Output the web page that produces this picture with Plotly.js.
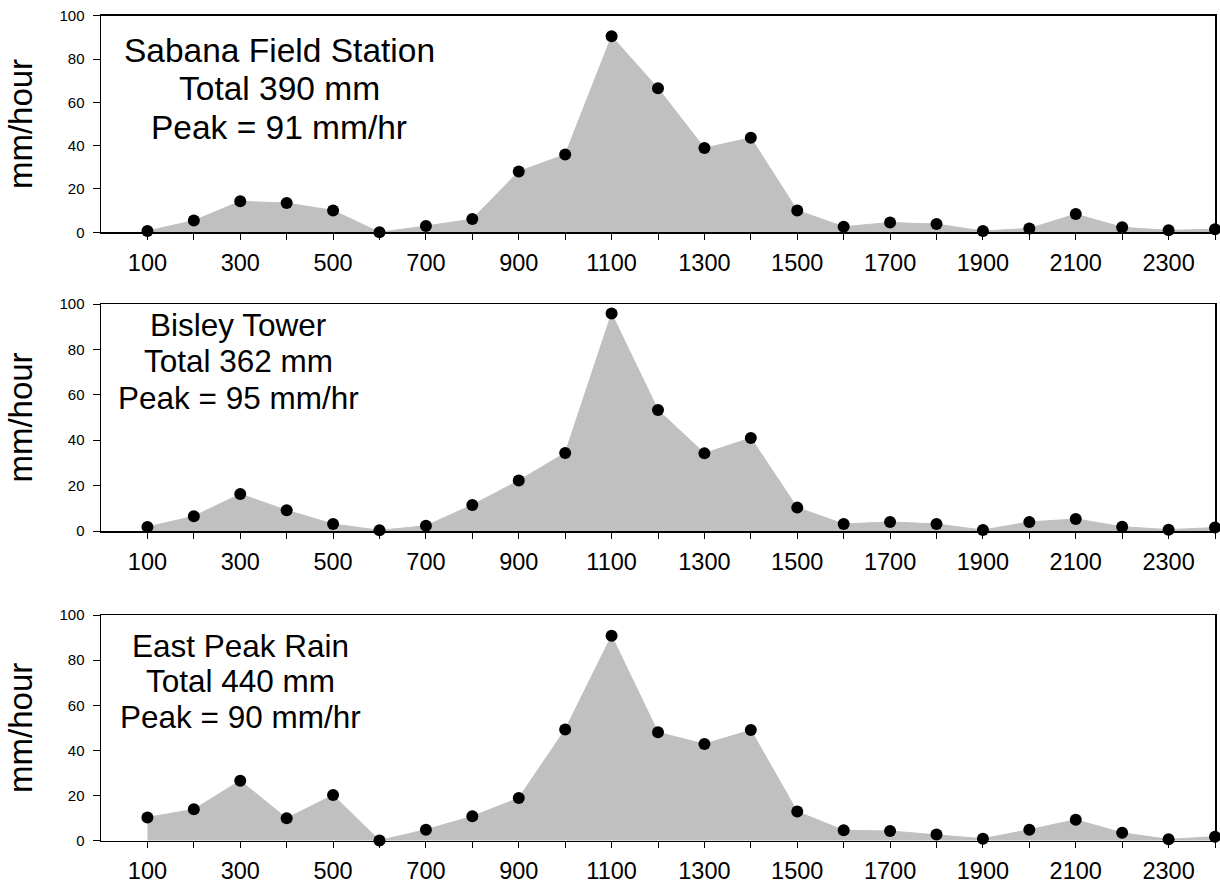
<!DOCTYPE html>
<html>
<head>
<meta charset="utf-8">
<script src="https://cdn.plot.ly/plotly-3.0.1.min.js"></script>
<style>
  html, body { margin: 0; padding: 0; background: #fff; }
  #chart { width: 1220px; height: 883px; }
</style>
</head>
<body>
<div id="chart"></div>
<script>
// ---- data ----
const hours = [100, 200, 300, 400, 500, 600, 700, 800, 900, 1000, 1100, 1200,
               1300, 1400, 1500, 1600, 1700, 1800, 1900, 2000, 2100, 2200, 2300, 2400];
const sabana = [0.6, 5.4, 14.3, 13.5, 10.1, 0, 2.9, 6.1, 28.1, 35.9, 90.5, 66.5,
                38.9, 43.6, 10.1, 2.6, 4.5, 3.8, 0.6, 1.8, 8.4, 2.3, 0.9, 1.4];
const bisley = [1.8, 6.5, 16.3, 9.1, 3.1, 0.3, 2.3, 11.5, 22.2, 34.4, 95.8, 53.3,
                34.2, 41.0, 10.3, 3.1, 4.0, 3.1, 0.4, 4.0, 5.3, 1.9, 0.6, 1.5];
const eastPeak = [10.3, 13.9, 26.6, 9.9, 20.2, 0.1, 4.9, 10.8, 18.9, 49.3, 90.8, 48.0,
                  42.8, 49.0, 12.9, 4.6, 4.3, 2.7, 0.9, 4.9, 9.3, 3.5, 0.6, 1.8];
const tickVals = hours;
const tickText = ['100', '', '300', '', '500', '', '700', '', '900', '', '1100', '',
                  '1300', '', '1500', '', '1700', '', '1900', '', '2100', '', '2300', ''];
const yTicks = [0, 20, 40, 60, 80, 100];
const stationNames = ['Sabana Field Station', 'Bisley Tower', 'East Peak Rain'];
const totals = ['Total 390 mm', 'Total 362 mm', 'Total 440 mm'];
const peaks = ['Peak = 91 mm/hr', 'Peak = 95 mm/hr', 'Peak = 90 mm/hr'];
const yTitle = 'mm/hour';

// ---- styling / geometry ----
const FONT = 'Arial, "Liberation Sans", sans-serif';
const W = 1220, H = 883;
const panels = [
  { top: 15.7, bottom: 232.3, series: sabana, cx: 279, lines: [50.7, 88.7, 127.3], fs: 33.5 },
  { top: 304, bottom: 531, series: bisley, cx: 238, lines: [325.4, 361.4, 397.7], fs: 31.5 },
  { top: 615, bottom: 840.7, series: eastPeak, cx: 240, lines: [646, 681.4, 717], fs: 31.5 }
];

const traces = [];
const layout = {
  width: W, height: H,
  margin: { l: 101, r: 5, t: 0, b: 0 },
  paper_bgcolor: '#fff', plot_bgcolor: '#fff',
  showlegend: false,
  font: { family: FONT, color: '#000' },
  annotations: []
};

panels.forEach((p, i) => {
  const n = i === 0 ? '' : String(i + 1);
  traces.push({
    type: 'scatter',
    x: hours, y: p.series,
    xaxis: 'x' + n, yaxis: 'y' + n,
    mode: 'lines+markers',
    fill: 'tozeroy',
    fillcolor: '#c0c0c0',
    line: { color: '#c0c0c0', width: 1 },
    marker: { color: '#000', size: 12 },
    cliponaxis: false,
    hoverinfo: 'x+y'
  });
  layout['xaxis' + n] = {
    anchor: 'y' + n,
    domain: [0, 1],
    range: [0, 2400],
    tickmode: 'array', tickvals: tickVals, ticktext: tickText,
    ticks: 'outside', ticklen: 6, tickwidth: 1, tickcolor: '#000',
    showline: true, linecolor: '#000', linewidth: 1.5, mirror: true,
    showgrid: false, zeroline: false,
    tickfont: { family: FONT, size: 23.5, color: '#000' },
    ticklabelstandoff: 3,
    fixedrange: true
  };
  layout['yaxis' + n] = {
    anchor: 'x' + n,
    domain: [1 - p.bottom / H, 1 - p.top / H],
    range: [0, 100],
    tickmode: 'array', tickvals: yTicks,
    ticks: 'outside', ticklen: 7, tickwidth: 1, tickcolor: '#000',
    showline: true, linecolor: '#000', linewidth: 1.5, mirror: true,
    showgrid: false, zeroline: false,
    tickfont: { family: FONT, size: 15, color: '#000' },
    ticklabelstandoff: 5,
    title: { text: yTitle, font: { family: FONT, size: 33, color: '#000' }, standoff: 17 },
    fixedrange: true
  };
  const texts = [stationNames[i], totals[i], peaks[i]];
  texts.forEach((t, k) => {
    layout.annotations.push({
      text: t, showarrow: false,
      xref: 'paper', yref: 'paper',
      x: (p.cx - 101) / (W - 106), y: 1 - p.lines[k] / H,
      xanchor: 'center', yanchor: 'middle',
      font: { family: FONT, size: p.fs, color: '#000' }
    });
  });
});

Plotly.newPlot('chart', traces, layout, { displayModeBar: false, staticPlot: true });
</script>
</body>
</html>
